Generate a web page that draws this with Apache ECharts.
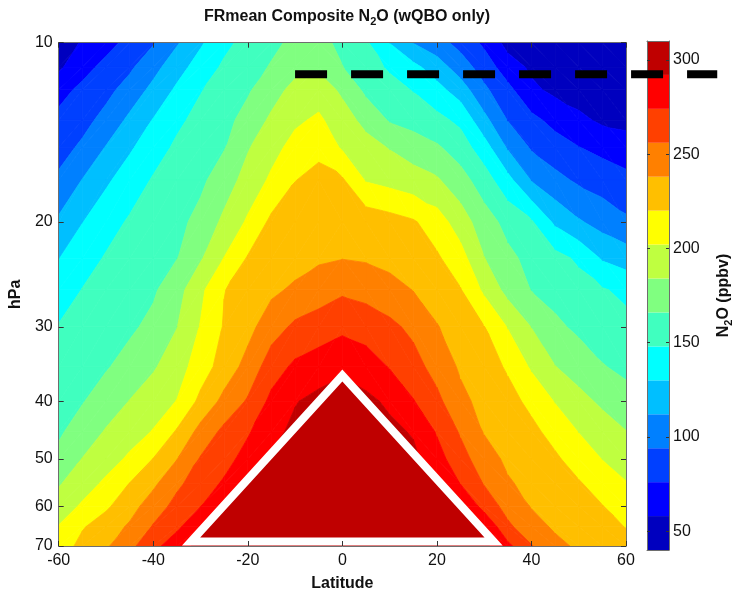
<!DOCTYPE html>
<html>
<head>
<meta charset="utf-8">
<title>FRmean Composite N2O (wQBO only)</title>
<script src="https://cdn.jsdelivr.net/npm/echarts@6/dist/echarts.min.js"></script>
<style>
  html, body { margin: 0; padding: 0; background: #fff; }
  #chart { width: 735px; height: 597px; }
</style>
</head>
<body>
<div id="chart"></div>
<script>
// latitude columns (deg) and pressure rows (hPa)
const lats = [-60, -55, -50, -45, -40, -35, -30, -25, -20, -15, -10, -5, 0, 5, 10, 15, 20, 25, 30, 35, 40, 45, 50, 55, 60];
const pressures = [10, 11, 12, 13.5, 15, 17, 20, 23, 26, 30, 35, 40, 45, 50, 55, 60, 65, 70];

// N2O (ppbv), one array per pressure level, lat -60 .. 60
const n2o_10hPa   = [46, 60, 70, 81, 92.5, 110, 127.5, 143.5, 154, 162, 170, 171, 162, 150.5, 129.5, 111.5, 101, 88, 72.5, 52, 48, 45, 43, 42, 41];
const n2o_11hPa   = [55, 70, 81, 91, 106, 123, 138, 151, 159, 167.5, 178, 181, 166.5, 156, 145.5, 135, 121, 103, 86, 66.5, 55, 50, 47, 45, 44];
const n2o_12hPa   = [70, 80, 89, 101, 117, 133, 147, 155.5, 164, 176, 190, 194, 180.5, 162, 155, 147, 136, 121, 97.5, 81, 61.5, 54, 50, 48, 47];
const n2o_13_5hPa = [80.5, 88.5, 99.5, 116, 131, 144.5, 153.5, 161, 172, 187.5, 199, 205, 192.5, 178.5, 164.5, 159, 153, 144, 117.5, 93.5, 81, 70.5, 62, 55, 53];
const n2o_15hPa   = [87.5, 97, 113, 127.5, 140.5, 151, 158, 165, 182.5, 196, 208, 215, 200, 191, 183, 176, 168.5, 157, 138, 110, 92, 84, 76.5, 71, 66];
const n2o_17hPa   = [97, 112.5, 127, 139, 149.5, 156, 162.5, 175, 191, 205, 219.5, 226, 222, 200.5, 196, 191, 186, 173, 156.5, 135.5, 111, 99, 91, 86, 81];
const n2o_20hPa   = [115, 129.5, 141, 150, 156, 161.5, 171, 188, 204.5, 224, 230, 235, 234, 231, 227, 222, 210.5, 193, 174, 160.5, 150, 126.5, 114, 105, 97];
const n2o_23hPa   = [129.5, 140.5, 149.5, 155, 160.5, 165.5, 182, 202.5, 221.5, 226.5, 231, 235.5, 237.5, 236, 232, 227, 222.5, 209, 184.5, 170, 161, 154, 145, 128, 121.5];
const n2o_26hPa   = [138.5, 148.5, 153.5, 158.5, 163.5, 177, 198, 219.5, 227, 234.5, 241, 247, 253, 250, 245, 237.5, 229.5, 221, 198.5, 178, 165.5, 160, 155, 149.5, 144];
const n2o_30hPa   = [149, 153.5, 158.5, 163, 170.5, 183.5, 203, 221.5, 232.5, 248, 259.5, 264.5, 270, 266, 260, 252, 239, 229.5, 220.5, 201, 183.5, 169.5, 162.5, 157.5, 153];
const n2o_35hPa   = [154, 159.5, 164.5, 172.5, 182, 194, 211, 228, 244, 265.5, 277.5, 283, 288, 283, 273, 262.5, 249.5, 235.5, 227.5, 218, 199.5, 184.5, 175.5, 167, 162];
const n2o_40hPa   = [159, 165, 174.5, 184.5, 193.5, 202.5, 224.5, 243, 258, 278.5, 291, 297, 300, 296, 289, 275, 260.5, 242.5, 232.5, 225.5, 216, 201, 190, 180.5, 172.5];
const n2o_45hPa   = [163.5, 174, 185.5, 194, 203, 222, 244, 260.5, 272, 287, 296, 300, 302, 300, 296, 290.5, 272.5, 254, 237, 230.5, 224, 214.5, 201.5, 193, 184.5];
const n2o_50hPa   = [170.5, 184.5, 194, 205, 220.5, 237.5, 257.5, 267.5, 281, 294, 298, 302, 304, 302, 300, 296, 281, 263, 246, 234.5, 228.5, 222.5, 213, 201.5, 194];
const n2o_55hPa   = [182.5, 193.5, 205.5, 220.5, 234.5, 252.5, 265, 276.5, 294, 298, 301, 304, 305, 304, 302, 298, 295, 273.5, 255, 240, 233, 227.5, 221.5, 213, 203];
const n2o_60hPa   = [192, 204.5, 217, 231, 247, 261.5, 273.5, 294, 298, 302, 305, 307, 308, 307, 305, 302, 298, 294, 267, 249.5, 237, 231.5, 226, 220.5, 211.5];
const n2o_65hPa   = [203, 218.5, 229, 240.5, 257.5, 270, 290.5, 296, 300, 303, 306, 308, 309, 308, 306, 303, 300, 296, 291.5, 259.5, 245, 235.5, 230, 225, 219.5];
const n2o_70hPa   = [210, 225.5, 235.5, 251.5, 268, 286, 296, 299, 302, 305, 307, 309, 310, 309, 307, 305, 302, 299, 296, 278.5, 257, 243, 235, 230.5, 226];

const n2oRows = [n2o_10hPa, n2o_11hPa, n2o_12hPa, n2o_13_5hPa, n2o_15hPa, n2o_17hPa, n2o_20hPa,
  n2o_23hPa, n2o_26hPa, n2o_30hPa, n2o_35hPa, n2o_40hPa, n2o_45hPa, n2o_50hPa, n2o_55hPa,
  n2o_60hPa, n2o_65hPa, n2o_70hPa];

// contour levels and their colours (15 bands)
const levels = [40, 58, 76, 94, 112, 130, 148, 166, 184, 202, 220, 238, 256, 274, 292, 310];
const bandColors = ['#0000bf', '#0000ff', '#0040ff', '#0080ff', '#00bfff', '#00ffff', '#40ffbf',
  '#80ff80', '#bfff40', '#ffff00', '#ffbf00', '#ff8000', '#ff4000', '#ff0000', '#bf0000'];

// ticks
const latTicks = [-60, -40, -20, 0, 20, 40, 60];
const pressureTicks = [10, 20, 30, 40, 50, 60, 70];
const colorbarTicks = [50, 100, 150, 200, 250, 300];

// annotations
const triangleLat = [-32, 0, 32];
const trianglePres = [68.8, 36.2, 68.8];
const dashLat = [-10, 79.3];
const dashPres = [11.3, 11.3];

const FONT = "'Liberation Sans', Arial, Helvetica, sans-serif";
const TEXT = '#111';
const BOX = '#6e6e6e';

// cells of the grid: [lat0, p0, lat1, p1, v(lat0,p0), v(lat1,p0), v(lat1,p1), v(lat0,p1)]
const cells = [];
for (let j = 0; j < pressures.length - 1; j++) {
  for (let i = 0; i < lats.length - 1; i++) {
    cells.push([lats[i], pressures[j], lats[i + 1], pressures[j + 1],
      n2oRows[j][i], n2oRows[j][i + 1], n2oRows[j + 1][i + 1], n2oRows[j + 1][i]]);
  }
}

const bands = [];
for (let k = 0; k < bandColors.length; k++) {
  bands.push([0, levels[k], 1, levels[k + 1], k]);
}

// keep the part of a polygon (points [x, y, value]) above / below a level
function clipPoly(poly, level, keepAbove) {
  const out = [];
  for (let i = 0; i < poly.length; i++) {
    const p = poly[i];
    const q = poly[(i + 1) % poly.length];
    const pIn = keepAbove ? p[2] >= level : p[2] <= level;
    const qIn = keepAbove ? q[2] >= level : q[2] <= level;
    if (pIn) out.push(p);
    if (pIn !== qIn) {
      const t = (level - p[2]) / (q[2] - p[2]);
      out.push([p[0] + t * (q[0] - p[0]), p[1] + t * (q[1] - p[1]), level]);
    }
  }
  return out;
}

function addBands(tri, children) {
  const vs = tri.map(t => t[2]);
  const vmin = Math.min.apply(null, vs);
  const vmax = Math.max.apply(null, vs);
  const last = bandColors.length - 1;
  for (let k = 0; k <= last; k++) {
    const lo = k === 0 ? -Infinity : levels[k];
    const hi = k === last ? Infinity : levels[k + 1];
    if (vmax < lo || vmin > hi) continue;
    let poly = tri;
    if (isFinite(lo)) poly = clipPoly(poly, lo, true);
    if (poly.length >= 3 && isFinite(hi)) poly = clipPoly(poly, hi, false);
    if (poly.length < 3) continue;
    children.push({
      type: 'polygon',
      shape: { points: poly.map(p => [p[0], p[1]]) },
      style: { fill: bandColors[k], stroke: bandColors[k], lineWidth: 0.8 }
    });
  }
}

function renderCell(params, api) {
  const pa = api.coord([api.value(0), api.value(1)]);
  const pb = api.coord([api.value(2), api.value(1)]);
  const pc = api.coord([api.value(2), api.value(3)]);
  const pd = api.coord([api.value(0), api.value(3)]);
  const A = [pa[0], pa[1], api.value(4)];
  const B = [pb[0], pb[1], api.value(5)];
  const C = [pc[0], pc[1], api.value(6)];
  const D = [pd[0], pd[1], api.value(7)];
  const children = [];
  // split along the diagonal whose ends are closest in value (follows the contours)
  if (Math.abs(A[2] - C[2]) <= Math.abs(B[2] - D[2])) {
    addBands([A, B, C], children);
    addBands([A, C, D], children);
  } else {
    addBands([A, B, D], children);
    addBands([B, C, D], children);
  }
  return { type: 'group', children: children };
}

function renderBand(params, api) {
  const lowLeft = api.coord([api.value(0), api.value(1)]);
  const upRight = api.coord([api.value(2), api.value(3)]);
  return {
    type: 'rect',
    shape: { x: lowLeft[0], y: upRight[1], width: upRight[0] - lowLeft[0], height: lowLeft[1] - upRight[1] },
    style: { fill: bandColors[api.value(4)] }
  };
}

function renderTriangle(params, api) {
  const pts = [];
  for (let i = 0; i < 3; i++) pts.push(api.coord([api.value(2 * i), api.value(2 * i + 1)]));
  return {
    type: 'polygon',
    shape: { points: pts },
    style: { fill: '#bf0000', stroke: '#ffffff', lineWidth: 8, lineJoin: 'miter' }
  };
}

function renderDash(params, api) {
  const p0 = api.coord([api.value(0), api.value(1)]);
  const p1 = api.coord([api.value(2), api.value(3)]);
  return {
    type: 'line',
    shape: { x1: p0[0], y1: p0[1], x2: p1[0], y2: p1[1] },
    style: { stroke: '#000', lineWidth: 8, lineDash: [32, 24], lineCap: 'butt' }
  };
}

const labelStyle = { fontFamily: FONT, fontSize: 16, color: TEXT };
const nameStyle = { fontFamily: FONT, fontSize: 16, fontWeight: 'bold', color: TEXT };
const subRich = {
  b: { fontFamily: FONT, fontSize: 16, fontWeight: 'bold', color: TEXT, lineHeight: 21 },
  s: { fontFamily: FONT, fontSize: 11, fontWeight: 'bold', color: TEXT, lineHeight: 11, verticalAlign: 'bottom' }
};

const chart = echarts.init(document.getElementById('chart'));

const option = {
  animation: false,
  backgroundColor: '#ffffff',
  title: {
    text: '{b|FRmean Composite N}{s|2}{b|O (wQBO only)}',
    left: 342,
    top: 1,
    textAlign: 'center',
    textStyle: { rich: subRich }
  },
  grid: [
    { left: 56, top: 42.7, width: 570, height: 505.6 },
    { left: 647, top: 41, width: 30, height: 509 }
  ],
  xAxis: [
    {
      gridIndex: 0, type: 'value', min: -60, max: 60, interval: 20, position: 'bottom', z: 5,
      axisLine: { show: true, onZero: false, lineStyle: { color: BOX, width: 1 } },
      axisTick: { show: true, inside: true, length: 5, lineStyle: { color: '#333' } },
      axisLabel: Object.assign({ margin: 7, customValues: latTicks }, labelStyle),
      splitLine: { show: false },
      name: 'Latitude', nameLocation: 'middle', nameGap: 30, nameTextStyle: nameStyle
    },
    {
      gridIndex: 0, type: 'value', min: -60, max: 60, interval: 20, position: 'top', z: 5,
      axisLine: { show: true, onZero: false, lineStyle: { color: BOX, width: 1 } },
      axisTick: { show: true, inside: true, length: 5, lineStyle: { color: '#333' } },
      axisLabel: { show: false },
      splitLine: { show: false }
    },
    {
      gridIndex: 1, type: 'value', min: 0, max: 1, position: 'bottom', z: 5,
      axisLine: { show: true, onZero: false, lineStyle: { color: BOX, width: 1 } },
      axisTick: { show: false }, axisLabel: { show: false }, splitLine: { show: false }
    },
    {
      gridIndex: 1, type: 'value', min: 0, max: 1, position: 'top', z: 5,
      axisLine: { show: true, onZero: false, lineStyle: { color: BOX, width: 1 } },
      axisTick: { show: false }, axisLabel: { show: false }, splitLine: { show: false }
    }
  ],
  yAxis: [
    {
      gridIndex: 0, type: 'log', logBase: 10, min: 10, max: 70, inverse: true, position: 'left', z: 5,
      axisLine: { show: true, onZero: false, lineStyle: { color: BOX, width: 1 } },
      axisTick: { show: true, inside: true, length: 5, customValues: pressureTicks, lineStyle: { color: '#333' } },
      axisLabel: Object.assign({ margin: 6, customValues: pressureTicks }, labelStyle),
      splitLine: { show: false },
      name: 'hPa', nameLocation: 'middle', nameGap: 34, nameRotate: 90, nameTextStyle: nameStyle
    },
    {
      gridIndex: 0, type: 'log', logBase: 10, min: 10, max: 70, inverse: true, position: 'right', z: 5,
      axisLine: { show: true, onZero: false, lineStyle: { color: BOX, width: 1 } },
      axisTick: { show: true, inside: true, length: 5, customValues: pressureTicks, lineStyle: { color: '#333' } },
      axisLabel: { show: false },
      splitLine: { show: false }
    },
    {
      gridIndex: 1, type: 'value', min: 40, max: 310, position: 'left', z: 5,
      axisLine: { show: true, onZero: false, lineStyle: { color: BOX, width: 1 } },
      axisTick: { show: true, inside: true, length: 3, customValues: colorbarTicks, lineStyle: { color: '#333' } },
      axisLabel: { show: false },
      splitLine: { show: false }
    },
    {
      gridIndex: 1, type: 'value', min: 40, max: 310, position: 'right', z: 5,
      axisLine: { show: true, onZero: false, lineStyle: { color: BOX, width: 1 } },
      axisTick: { show: true, inside: true, length: 3, customValues: colorbarTicks, lineStyle: { color: '#333' } },
      axisLabel: Object.assign({ margin: 4, customValues: colorbarTicks }, labelStyle),
      splitLine: { show: false },
      name: '{b|N}{s|2}{b|O (ppbv)}', nameLocation: 'middle', nameGap: 44, nameRotate: 90,
      nameTextStyle: { rich: subRich }
    }
  ],
  series: [
    {
      type: 'custom', name: 'N2O', xAxisIndex: 0, yAxisIndex: 0, silent: true, clip: true, z: 1,
      encode: { x: [0, 2], y: [1, 3] },
      renderItem: renderCell,
      data: cells
    },
    {
      type: 'custom', name: 'colorbar', xAxisIndex: 2, yAxisIndex: 2, silent: true, z: 1,
      encode: { x: [0, 2], y: [1, 3] },
      renderItem: renderBand,
      data: bands
    },
    {
      type: 'custom', name: 'triangle', xAxisIndex: 0, yAxisIndex: 0, silent: true, clip: true, z: 3,
      encode: { x: [0, 2, 4], y: [1, 3, 5] },
      renderItem: renderTriangle,
      data: [[triangleLat[0], trianglePres[0], triangleLat[1], trianglePres[1], triangleLat[2], trianglePres[2]]]
    },
    {
      type: 'custom', name: 'dash', xAxisIndex: 0, yAxisIndex: 0, silent: true, clip: false, z: 10,
      encode: { x: [0, 2], y: [1, 3] },
      renderItem: renderDash,
      data: [[dashLat[0], dashPres[0], dashLat[1], dashPres[1]]]
    }
  ]
};

chart.setOption(option);
</script>
</body>
</html>
